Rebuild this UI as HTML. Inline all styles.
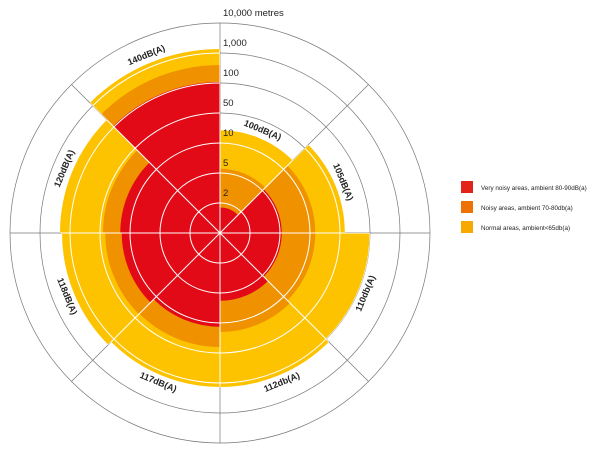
<!DOCTYPE html>
<html><head><meta charset="utf-8"><style>
body{margin:0;background:#fff;width:600px;height:450px;overflow:hidden;font-family:"Liberation Sans",sans-serif}
svg{display:block}
</style></head><body>
<svg id="chart" width="600" height="450" xmlns="http://www.w3.org/2000/svg"></svg>
<script>
const categories=["100dB(A)","105dB(A)","110db(A)","112db(A)","117dB(A)","118dB(A)","120dB(A)","140dB(A)"];
const veryNoisy=[1.7,5.3,5.3,6.3,15,21,23,130];
const noisy=[5.7,17,17,22,42,43,46,640];
const normal=[27,58,100,220,220,340,400,2200];
const ringValues=[2,5,10,50,100,1000,10000];
const ringLabels=["2","5","10","50","100","1,000","10,000 metres"];
const seriesNames=["Very noisy areas, ambient 80-90dB(a)","Noisy areas, ambient 70-80db(a)","Normal areas, ambient<65db(a)"];

const NS="http://www.w3.org/2000/svg";
const svg=document.getElementById('chart');
const cx=220,cy=233,step=30;
const knotsV=[0].concat(ringValues);
function rScale(v){
  for(let i=1;i<knotsV.length;i++){
    if(v<=knotsV[i]){return (i-1)*step+(v-knotsV[i-1])/(knotsV[i]-knotsV[i-1])*step;}
  }
  return (knotsV.length-1)*step;
}
const rMax=rScale(ringValues[ringValues.length-1]);
function pt(r,a){const t=a*Math.PI/180;return [cx+r*Math.sin(t),cy-r*Math.cos(t)];}
function sectorPath(r,a0,a1){
  const p0=pt(r,a0),p1=pt(r,a1);
  return `M${cx},${cy}L${p0[0]},${p0[1]}A${r},${r} 0 0 1 ${p1[0]},${p1[1]}Z`;
}
function mk(tag,attrs,parent){const e=document.createElementNS(NS,tag);for(const k in attrs)e.setAttribute(k,attrs[k]);(parent||svg).appendChild(e);return e;}
const n=categories.length, secA=360/n;

const grid=mk('g',{});


function drawGrid(parent,color,w){
  ringValues.forEach(v=>{
    const c=mk('circle',{cx:cx,cy:cy,r:rScale(v),fill:'none',stroke:color,'stroke-width':w},parent);
    
    
  });
  for(let i=0;i<n;i++){
    const p=pt(rMax,i*secA);
    const l=mk('line',{x1:cx,y1:cy,x2:p[0],y2:p[1],stroke:color,'stroke-width':w},parent);
    
    
  }
}
drawGrid(grid,'#777',0.7);

const clip=mk('clipPath',{id:'fillclip'});
const series=[[normal,'#fdc300','normal'],[noisy,'#f09200','noisy'],[veryNoisy,'#e30a17','very-noisy']];
series.forEach(([arr,col,nm])=>{
  const g=mk('g',{});
  
  
  arr.forEach((v,i)=>{
    const d=sectorPath(rScale(v),i*secA,(i+1)*secA);
    const p=mk('path',{d:d,fill:col},g);
    
    
    if(nm==='normal'){mk('path',{d:d},clip);}
  });
});
const wg=mk('g',{'clip-path':'url(#fillclip)'});


drawGrid(wg,'#fff',1);

ringValues.forEach((v,i)=>{
  const t=mk('text',{x:cx+3,y:cy-rScale(v)-7,'font-size':9.5,fill:'#222'});
  t.textContent=ringLabels[i];
  
  
});

categories.forEach((c,i)=>{
  const a=(i+0.5)*secA;
  const r=rScale(normal[i])+8;
  const p=pt(r,a);
  let rot=a; if(a>90&&a<270)rot=a-180;
  const t=mk('text',{x:p[0],y:p[1],'font-size':9,'font-weight':'bold',fill:'#222','text-anchor':'middle','dominant-baseline':'middle',transform:`rotate(${rot} ${p[0]} ${p[1]})`});
  t.textContent=c;
  
  
});

const leg=mk('g',{});


const legCols=['#e2231a','#ee7203','#f8a900'];
seriesNames.forEach((s,i)=>{
  const r=mk('rect',{x:461,y:181+i*20,width:12,height:12,fill:legCols[i]},leg);
  
  
  const t=mk('text',{x:481,y:190+i*20,'font-size':6.3,fill:'#222'},leg);
  t.textContent=s;
  
  
});
</script>
</body></html>
